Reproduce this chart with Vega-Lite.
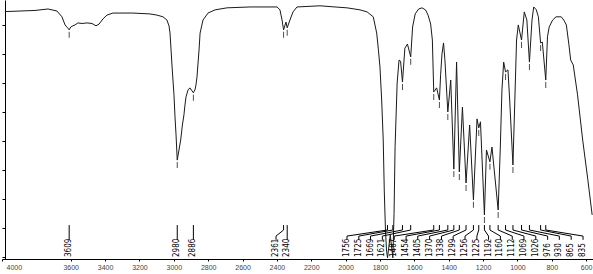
{
  "$schema": "https://vega.github.io/schema/vega-lite/v6.json",
  "width": 591,
  "height": 259,
  "autosize": "none",
  "padding": {"left": 2, "top": 0, "right": 0, "bottom": 15},
  "background": "white",
  "config": {
    "view": {"stroke": null},
    "axis": {"grid": false, "domainColor": "#000", "tickColor": "#000", "domainWidth": 1, "tickWidth": 1, "labelFont": "Liberation Sans", "labelFontSize": 7, "labelColor": "#444", "labelOverlap": false},
    "axisX": {"tickSize": 2, "labelPadding": 2, "labelFlush": true, "labelFlushOffset": -4, "format": "d"},
    "axisY": {"labels": false, "tickSize": 3, "offset": -3}
  },
  "datasets": {
    "spec": [
      {"w": 3983, "t": 84.6}, {"w": 3895, "t": 84.8}, {"w": 3808, "t": 85.0}, {"w": 3732, "t": 85.5},
      {"w": 3680, "t": 84.8}, {"w": 3651, "t": 82.8}, {"w": 3633, "t": 80.0}, {"w": 3618, "t": 79.0},
      {"w": 3609, "t": 78.3}, {"w": 3600, "t": 79.3}, {"w": 3587, "t": 79.7}, {"w": 3575, "t": 80.0},
      {"w": 3558, "t": 80.7}, {"w": 3534, "t": 80.5}, {"w": 3505, "t": 80.7}, {"w": 3476, "t": 80.5},
      {"w": 3453, "t": 79.7}, {"w": 3435, "t": 80.3}, {"w": 3412, "t": 82.1}, {"w": 3389, "t": 83.4},
      {"w": 3354, "t": 84.1}, {"w": 3238, "t": 84.1}, {"w": 3139, "t": 83.8}, {"w": 3098, "t": 83.4},
      {"w": 3063, "t": 82.8}, {"w": 3040, "t": 81.7}, {"w": 3028, "t": 79.7}, {"w": 3022, "t": 77.2},
      {"w": 3016, "t": 71.4}, {"w": 3010, "t": 65.5}, {"w": 2999, "t": 55.9}, {"w": 2993, "t": 48.3},
      {"w": 2987, "t": 42.1}, {"w": 2980, "t": 33.4}, {"w": 2960, "t": 40.3}, {"w": 2950, "t": 45.5},
      {"w": 2941, "t": 49.0}, {"w": 2935, "t": 52.4}, {"w": 2929, "t": 55.2}, {"w": 2917, "t": 57.6},
      {"w": 2906, "t": 58.3}, {"w": 2886, "t": 56.6}, {"w": 2877, "t": 57.6}, {"w": 2871, "t": 59.3},
      {"w": 2865, "t": 62.1}, {"w": 2853, "t": 71.4}, {"w": 2847, "t": 77.2}, {"w": 2830, "t": 81.7},
      {"w": 2801, "t": 84.1}, {"w": 2760, "t": 85.2}, {"w": 2690, "t": 85.9}, {"w": 2556, "t": 86.2},
      {"w": 2399, "t": 86.2}, {"w": 2382, "t": 85.2}, {"w": 2370, "t": 81.7}, {"w": 2361, "t": 78.3},
      {"w": 2347, "t": 81.0}, {"w": 2340, "t": 79.0}, {"w": 2324, "t": 81.7}, {"w": 2306, "t": 84.5},
      {"w": 2283, "t": 86.2}, {"w": 2149, "t": 86.6}, {"w": 2062, "t": 86.2}, {"w": 1992, "t": 85.9},
      {"w": 1916, "t": 85.2}, {"w": 1875, "t": 84.5}, {"w": 1839, "t": 82.8}, {"w": 1819, "t": 77.2},
      {"w": 1809, "t": 71.4}, {"w": 1800, "t": 65.5}, {"w": 1790, "t": 54.1}, {"w": 1781, "t": 40.3},
      {"w": 1775, "t": 23.1}, {"w": 1768, "t": 9.3}, {"w": 1762, "t": 2.4}, {"w": 1756, "t": -0.3},
      {"w": 1740, "t": 7.6}, {"w": 1725, "t": -0.3}, {"w": 1718, "t": 15.0}, {"w": 1712, "t": 38.0},
      {"w": 1700, "t": 60.0}, {"w": 1689, "t": 67.9}, {"w": 1680, "t": 67.5}, {"w": 1669, "t": 60.3},
      {"w": 1655, "t": 72.0}, {"w": 1640, "t": 73.4}, {"w": 1621, "t": 69.0}, {"w": 1610, "t": 79.3},
      {"w": 1595, "t": 83.8}, {"w": 1575, "t": 85.5}, {"w": 1555, "t": 85.9}, {"w": 1535, "t": 85.2},
      {"w": 1520, "t": 83.4}, {"w": 1505, "t": 80.3}, {"w": 1495, "t": 74.8}, {"w": 1487, "t": 56.9},
      {"w": 1470, "t": 58.3}, {"w": 1454, "t": 54.1}, {"w": 1447, "t": 62.8}, {"w": 1439, "t": 70.0},
      {"w": 1430, "t": 73.8}, {"w": 1422, "t": 68.0}, {"w": 1405, "t": 50.0}, {"w": 1388, "t": 61.0},
      {"w": 1370, "t": 30.3}, {"w": 1354, "t": 67.2}, {"w": 1338, "t": 29.3}, {"w": 1320, "t": 51.7},
      {"w": 1299, "t": 25.5}, {"w": 1278, "t": 45.5}, {"w": 1256, "t": 19.7}, {"w": 1235, "t": 47.6},
      {"w": 1225, "t": 44.5}, {"w": 1215, "t": 46.6}, {"w": 1192, "t": 14.5}, {"w": 1180, "t": 36.9},
      {"w": 1160, "t": 32.8}, {"w": 1148, "t": 37.9}, {"w": 1135, "t": 30.0}, {"w": 1112, "t": 16.2},
      {"w": 1100, "t": 36.9}, {"w": 1090, "t": 57.6}, {"w": 1080, "t": 67.2}, {"w": 1069, "t": 63.8},
      {"w": 1055, "t": 64.5}, {"w": 1045, "t": 54.1}, {"w": 1026, "t": 31.7}, {"w": 1015, "t": 54.1},
      {"w": 1005, "t": 74.8}, {"w": 995, "t": 80.0}, {"w": 976, "t": 74.8}, {"w": 960, "t": 84.5},
      {"w": 945, "t": 81.7}, {"w": 930, "t": 67.2}, {"w": 915, "t": 81.7}, {"w": 905, "t": 86.2},
      {"w": 890, "t": 85.2}, {"w": 878, "t": 82.8}, {"w": 865, "t": 73.8}, {"w": 855, "t": 74.1},
      {"w": 835, "t": 61.0}, {"w": 825, "t": 75.9}, {"w": 815, "t": 79.3}, {"w": 795, "t": 81.7},
      {"w": 775, "t": 82.8}, {"w": 745, "t": 82.8}, {"w": 730, "t": 81.7}, {"w": 715, "t": 80.0},
      {"w": 700, "t": 73.1}, {"w": 690, "t": 67.9}, {"w": 675, "t": 66.2}, {"w": 650, "t": 55.9},
      {"w": 620, "t": 40.3}, {"w": 590, "t": 26.6}, {"w": 565, "t": 14.5}
    ],
    "peaks": [
      {"w": 3609, "t": 78.3, "lx": 3609}, {"w": 2980, "t": 33.4, "lx": 2980}, {"w": 2886, "t": 56.6, "lx": 2886},
      {"w": 2361, "t": 78.3, "lx": 2405}, {"w": 2340, "t": 79.0, "lx": 2340},
      {"w": 1756, "t": -0.3, "lx": 1992}, {"w": 1725, "t": -0.3, "lx": 1923}, {"w": 1669, "t": 60.3, "lx": 1855},
      {"w": 1621, "t": 69.0, "lx": 1786}, {"w": 1487, "t": 56.9, "lx": 1717}, {"w": 1454, "t": 54.1, "lx": 1648},
      {"w": 1405, "t": 50.0, "lx": 1580}, {"w": 1370, "t": 30.3, "lx": 1511}, {"w": 1338, "t": 29.3, "lx": 1442},
      {"w": 1299, "t": 25.5, "lx": 1374}, {"w": 1256, "t": 19.7, "lx": 1305}, {"w": 1225, "t": 44.5, "lx": 1236},
      {"w": 1192, "t": 14.5, "lx": 1168}, {"w": 1160, "t": 32.8, "lx": 1099}, {"w": 1112, "t": 16.2, "lx": 1030},
      {"w": 1069, "t": 63.8, "lx": 962}, {"w": 1026, "t": 31.7, "lx": 893}, {"w": 976, "t": 74.8, "lx": 824},
      {"w": 930, "t": 67.2, "lx": 756}, {"w": 865, "t": 73.8, "lx": 687}, {"w": 835, "t": 61.0, "lx": 618}
    ]
  },
  "layer": [
    {
      "data": {"name": "spec"},
      "mark": {"type": "line", "color": "#1a1a1a", "strokeWidth": 1, "interpolate": "linear"},
      "encoding": {
        "x": {"field": "w", "type": "quantitative", "title": null,
              "scale": {"domain": [560, 4000], "reverse": true, "nice": false, "zero": false},
              "axis": {"values": [4000, 3600, 3400, 3200, 3000, 2800, 2600, 2400, 2200, 2000, 1800, 1600, 1400, 1200, 1000, 800, 600]}},
        "y": {"field": "t", "type": "quantitative", "title": null,
              "scale": {"domain": [-0.7, 88.6], "nice": false, "zero": false},
              "axis": {"values": [0, 10, 20, 30, 40, 50, 60, 70, 80]}}
      }
    },
    {
      "data": {"name": "peaks"},
      "transform": [{"filter": "datum.t > 1"}],
      "mark": {"type": "tick", "orient": "vertical", "size": 6, "thickness": 1, "yOffset": 5, "color": "#000"},
      "encoding": {
        "x": {"field": "w", "type": "quantitative", "title": null,
              "axis": {"values": [4000, 3600, 3400, 3200, 3000, 2800, 2600, 2400, 2200, 2000, 1800, 1600, 1400, 1200, 1000, 800, 600]}},
        "y": {"field": "t", "type": "quantitative", "title": null,
              "axis": {"values": [0, 10, 20, 30, 40, 50, 60, 70, 80]}}
      }
    },
    {
      "data": {"name": "peaks"},
      "mark": {"type": "rule", "color": "#000", "strokeWidth": 1},
      "encoding": {
        "x": {"field": "lx", "type": "quantitative", "title": null,
              "axis": {"values": [4000, 3600, 3400, 3200, 3000, 2800, 2600, 2400, 2200, 2000, 1800, 1600, 1400, 1200, 1000, 800, 600]}},
        "y": {"datum": 5.9, "type": "quantitative", "title": null,
              "axis": {"values": [0, 10, 20, 30, 40, 50, 60, 70, 80]}},
        "y2": {"datum": 7.2}
      }
    },
    {
      "data": {"name": "peaks"},
      "mark": {"type": "rule", "color": "#000", "strokeWidth": 1},
      "encoding": {
        "x": {"field": "lx", "type": "quantitative", "title": null,
              "axis": {"values": [4000, 3600, 3400, 3200, 3000, 2800, 2600, 2400, 2200, 2000, 1800, 1600, 1400, 1200, 1000, 800, 600]}},
        "x2": {"field": "w"},
        "y": {"datum": 7.2, "type": "quantitative", "title": null,
              "axis": {"values": [0, 10, 20, 30, 40, 50, 60, 70, 80]}},
        "y2": {"datum": 9.3}
      }
    },
    {
      "data": {"name": "peaks"},
      "mark": {"type": "rule", "color": "#000", "strokeWidth": 1},
      "encoding": {
        "x": {"field": "w", "type": "quantitative", "title": null,
              "axis": {"values": [4000, 3600, 3400, 3200, 3000, 2800, 2600, 2400, 2200, 2000, 1800, 1600, 1400, 1200, 1000, 800, 600]}},
        "y": {"datum": 9.3, "type": "quantitative", "title": null,
              "axis": {"values": [0, 10, 20, 30, 40, 50, 60, 70, 80]}},
        "y2": {"datum": 11.0}
      }
    },
    {
      "data": {"name": "peaks"},
      "mark": {"type": "text", "angle": 270, "align": "left", "baseline": "middle", "font": "DejaVu Sans Condensed, Liberation Sans, sans-serif", "fontSize": 8, "color": "#000"},
      "encoding": {
        "x": {"field": "lx", "type": "quantitative", "title": null,
              "axis": {"values": [4000, 3600, 3400, 3200, 3000, 2800, 2600, 2400, 2200, 2000, 1800, 1600, 1400, 1200, 1000, 800, 600]}},
        "y": {"datum": 0, "type": "quantitative", "title": null,
              "axis": {"values": [0, 10, 20, 30, 40, 50, 60, 70, 80]}},
        "text": {"field": "w", "type": "quantitative", "format": "d"}
      }
    }
  ]
}
